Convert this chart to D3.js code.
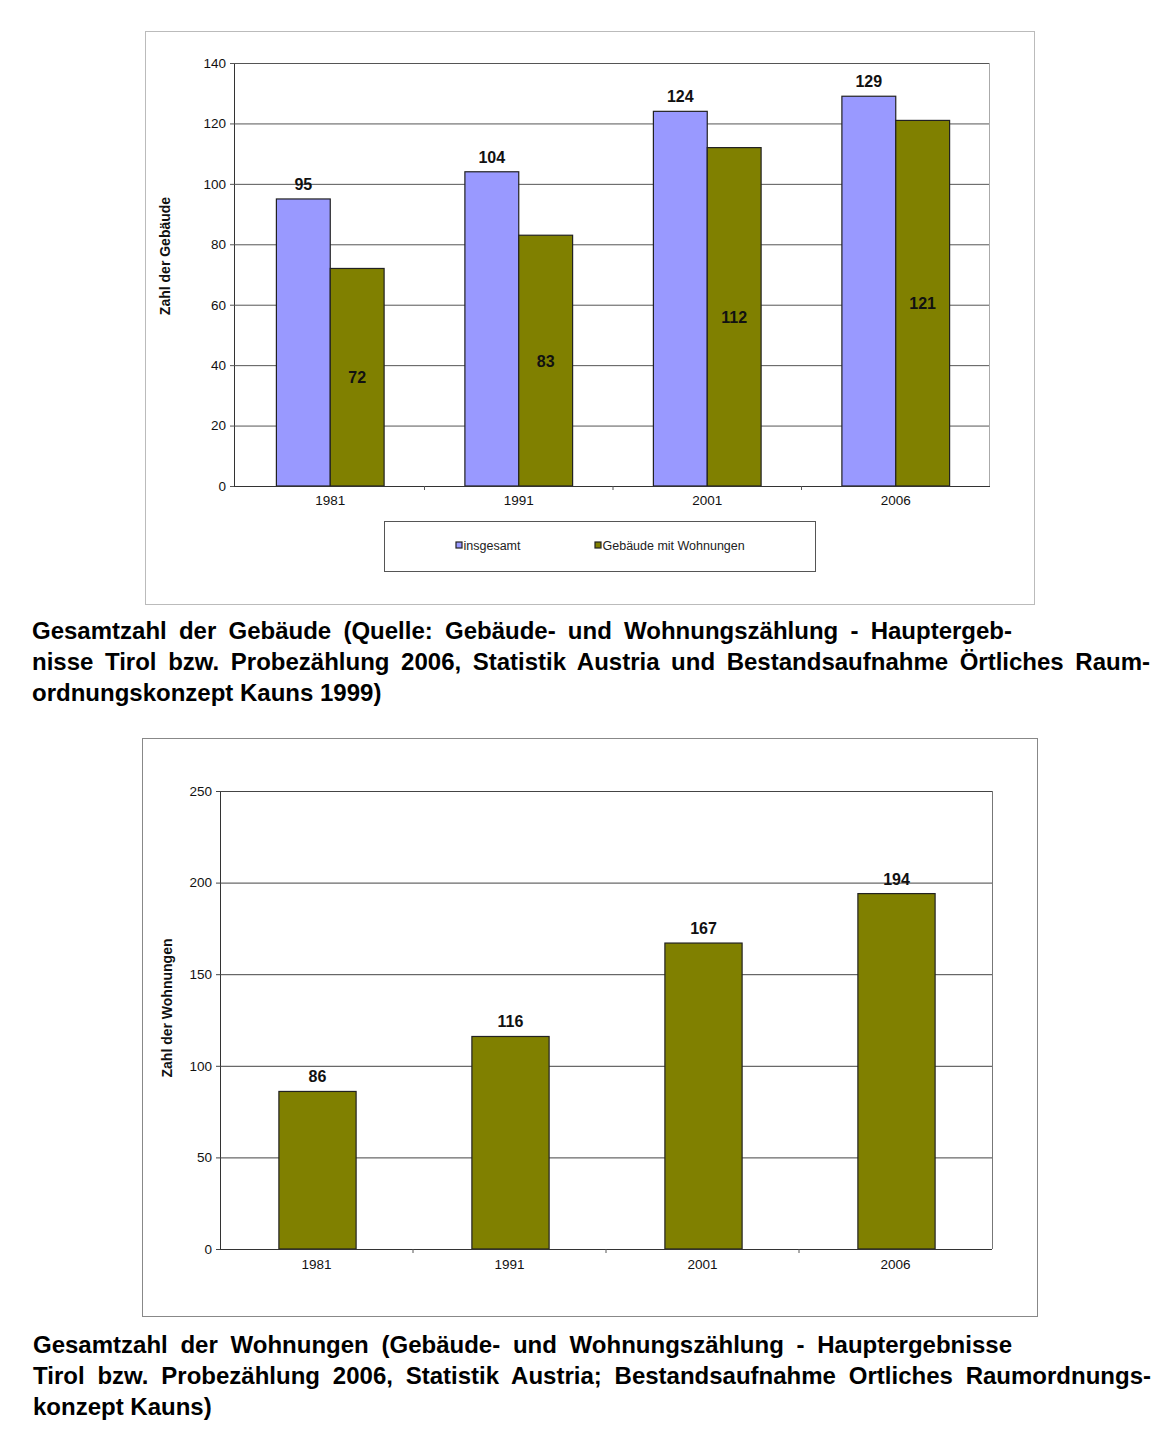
<!DOCTYPE html>
<html>
<head>
<meta charset="utf-8">
<script src="https://cdn.jsdelivr.net/npm/d3@7"></script>
<style>
  body { margin: 0; background: #fff; }
  svg text { font-family: "Liberation Sans", Arial, sans-serif; }
</style>
</head>
<body>
<svg id="page" width="1172" height="1440"></svg>
<script>
// data
var years = ["1981", "1991", "2001", "2006"];
var gebaeudeGesamt = [95, 104, 124, 129];
var gebaeudeMitWohnungen = [72, 83, 112, 121];
var wohnungen = [86, 116, 167, 194];
var ticksTop = [0, 20, 40, 60, 80, 100, 120, 140];
var ticksBottom = [0, 50, 100, 150, 200, 250];
var seriesNames = ["insgesamt", "Gebäude mit Wohnungen"];

var caption1 = [
  "Gesamtzahl der Gebäude (Quelle: Gebäude- und Wohnungszählung - Hauptergeb-",
  "nisse Tirol bzw. Probezählung 2006, Statistik Austria und Bestandsaufnahme Örtliches Raum-",
  "ordnungskonzept Kauns 1999)"
];
var caption2 = [
  "Gesamtzahl der Wohnungen (Gebäude- und Wohnungszählung - Hauptergebnisse",
  "Tirol bzw. Probezählung 2006, Statistik Austria; Bestandsaufnahme Ortliches Raumordnungs-",
  "konzept Kauns)"
];

var blue = "#9999ff", olive = "#808000";
var svg = d3.select("#page");

// ---------- chart 1 ----------
svg.append("rect").attr("x", 145.5).attr("y", 31.5).attr("width", 889).attr("height", 573)
   .attr("fill", "#fff").attr("stroke", "#bbb");

var g1 = svg.append("g");
var x1 = d3.scaleBand().domain(years).range([236, 990]);
var y1 = d3.scaleLinear().domain([0, 140]).range([486, 63]);
var inner = d3.scaleBand().domain([0, 1]).range([0, x1.bandwidth()]).paddingInner(0).paddingOuter(0.75);

// plot right border
g1.append("line").attr("x1", 989.5).attr("x2", 989.5).attr("y1", 63).attr("y2", 486)
  .attr("stroke", "#aaa");

g1.append("g").attr("transform", "translate(234,0)")
  .call(d3.axisLeft(y1).tickValues(ticksTop).tickSize(-755).tickSizeOuter(0).tickPadding(8))
  .call(function(a){
    a.select(".domain").attr("stroke", "#333");
    a.selectAll(".tick line").attr("stroke", "#555").attr("x1", -4);
    a.selectAll(".tick text").attr("font-size", 13.5).attr("fill", "#111")
      .attr("font-family", "Liberation Sans, Arial, sans-serif");
  });

var groups = g1.selectAll(".grp").data(years).enter().append("g")
  .attr("transform", function(d){ return "translate(" + x1(d) + ",0)"; });

groups.append("rect")
  .attr("x", inner(0)).attr("width", inner.bandwidth())
  .attr("y", function(d, i){ return y1(gebaeudeGesamt[i]); })
  .attr("height", function(d, i){ return y1(0) - y1(gebaeudeGesamt[i]); })
  .attr("fill", blue).attr("stroke", "#222").attr("stroke-width", 1.2);
groups.append("rect")
  .attr("x", inner(1)).attr("width", inner.bandwidth())
  .attr("y", function(d, i){ return y1(gebaeudeMitWohnungen[i]); })
  .attr("height", function(d, i){ return y1(0) - y1(gebaeudeMitWohnungen[i]); })
  .attr("fill", olive).attr("stroke", "#222").attr("stroke-width", 1.2);

groups.append("text")
  .attr("x", inner(0) + inner.bandwidth() / 2)
  .attr("y", function(d, i){ return y1(gebaeudeGesamt[i]) - 9; })
  .attr("text-anchor", "middle").attr("font-size", 16).attr("font-weight", "bold").attr("fill", "#111")
  .text(function(d, i){ return gebaeudeGesamt[i]; });
groups.append("text")
  .attr("x", inner(1) + inner.bandwidth() / 2)
  .attr("y", function(d, i){ return y1(gebaeudeMitWohnungen[i] / 2) + 6; })
  .attr("text-anchor", "middle").attr("font-size", 16).attr("font-weight", "bold").attr("fill", "#111")
  .text(function(d, i){ return gebaeudeMitWohnungen[i]; });

g1.append("g").attr("transform", "translate(0,486)")
  .call(d3.axisBottom(x1).tickSize(0).tickPadding(9))
  .call(function(a){
    a.select(".domain").attr("stroke", "#333").attr("d", "M234,0.5H990");
    a.selectAll(".tick text").attr("font-size", 13.5).attr("fill", "#111")
      .attr("font-family", "Liberation Sans, Arial, sans-serif");
  });
// category separator ticks
g1.selectAll(".sep").data(years.slice(1)).enter().append("line")
  .attr("x1", function(d){ return x1(d); }).attr("x2", function(d){ return x1(d); })
  .attr("y1", 486).attr("y2", 490).attr("stroke", "#555");

g1.append("text").attr("transform", "translate(170,256) rotate(-90)")
  .attr("text-anchor", "middle").attr("font-size", 14).attr("font-weight", "bold").attr("fill", "#111")
  .text("Zahl der Gebäude");

// legend
var lg = g1.append("g");
lg.append("rect").attr("x", 384.5).attr("y", 521.5).attr("width", 431).attr("height", 50)
  .attr("fill", "#fff").attr("stroke", "#555");
var legendX = [456, 595];
lg.selectAll(".li").data(seriesNames).enter().append("g")
  .attr("transform", function(d, i){ return "translate(" + legendX[i] + ",546)"; })
  .each(function(d, i){
    var s = d3.select(this);
    s.append("rect").attr("x", 0).attr("y", -4).attr("width", 6).attr("height", 6)
      .attr("fill", i === 0 ? blue : olive).attr("stroke", "#222").attr("stroke-width", 1.2);
    s.append("text").attr("x", 7.5).attr("y", 4).attr("font-size", 12.5).attr("fill", "#222").text(d);
  });

// ---------- chart 2 ----------
svg.append("rect").attr("x", 142.5).attr("y", 738.5).attr("width", 895).attr("height", 578)
   .attr("fill", "#fff").attr("stroke", "#888");

var g2 = svg.append("g");
var x2 = d3.scaleBand().domain(years).range([220, 992]).paddingInner(0.6).paddingOuter(0.3);
var xb2 = d3.scaleBand().domain(years).range([220, 992]);
var y2 = d3.scaleLinear().domain([0, 250]).range([1249, 791]);

g2.append("line").attr("x1", 992.5).attr("x2", 992.5).attr("y1", 791).attr("y2", 1249)
  .attr("stroke", "#777");

g2.append("g").attr("transform", "translate(220,0)")
  .call(d3.axisLeft(y2).tickValues(ticksBottom).tickSize(-772).tickSizeOuter(0).tickPadding(8))
  .call(function(a){
    a.select(".domain").attr("stroke", "#333");
    a.selectAll(".tick line").attr("stroke", "#444").attr("x1", -4);
    a.selectAll(".tick text").attr("font-size", 13.5).attr("fill", "#111")
      .attr("font-family", "Liberation Sans, Arial, sans-serif");
  });

g2.selectAll(".bar").data(years).enter().append("rect")
  .attr("x", function(d){ return x2(d) + 1; }).attr("width", x2.bandwidth())
  .attr("y", function(d, i){ return y2(wohnungen[i]); })
  .attr("height", function(d, i){ return y2(0) - y2(wohnungen[i]); })
  .attr("fill", olive).attr("stroke", "#222").attr("stroke-width", 1.2);

g2.selectAll(".lbl").data(years).enter().append("text")
  .attr("x", function(d){ return x2(d) + 1 + x2.bandwidth() / 2; })
  .attr("y", function(d, i){ return y2(wohnungen[i]) - 9; })
  .attr("text-anchor", "middle").attr("font-size", 16).attr("font-weight", "bold").attr("fill", "#111")
  .text(function(d, i){ return wohnungen[i]; });

g2.append("g").attr("transform", "translate(0,1249)")
  .call(d3.axisBottom(xb2).tickSize(0).tickPadding(10))
  .call(function(a){
    a.select(".domain").attr("stroke", "#333").attr("d", "M220,0.5H992");
    a.selectAll(".tick text").attr("font-size", 13.5).attr("fill", "#111")
      .attr("font-family", "Liberation Sans, Arial, sans-serif");
  });
g2.selectAll(".sep").data(years.slice(1)).enter().append("line")
  .attr("x1", function(d){ return xb2(d); }).attr("x2", function(d){ return xb2(d); })
  .attr("y1", 1249).attr("y2", 1253).attr("stroke", "#555");

g2.append("text").attr("transform", "translate(172,1008) rotate(-90)")
  .attr("text-anchor", "middle").attr("font-size", 14).attr("font-weight", "bold").attr("fill", "#111")
  .text("Zahl der Wohnungen");

// ---------- captions (justified like the printed page) ----------
function caption(lines, x, y0, widths) {
  lines.forEach(function(line, i){
    var t = svg.append("text").attr("x", x).attr("y", y0 + i * 31)
      .attr("font-size", 24).attr("font-weight", "bold").attr("fill", "#000").text(line);
    if (widths[i]) {
      var w = t.node().getComputedTextLength();
      var gaps = line.split(" ").length - 1;
      if (gaps > 0) t.attr("word-spacing", (widths[i] - w) / gaps);
    }
  });
}
caption(caption1, 32, 639, [980, 1118, 0]);
caption(caption2, 33, 1353, [979, 1118, 0]);
</script>
</body>
</html>
